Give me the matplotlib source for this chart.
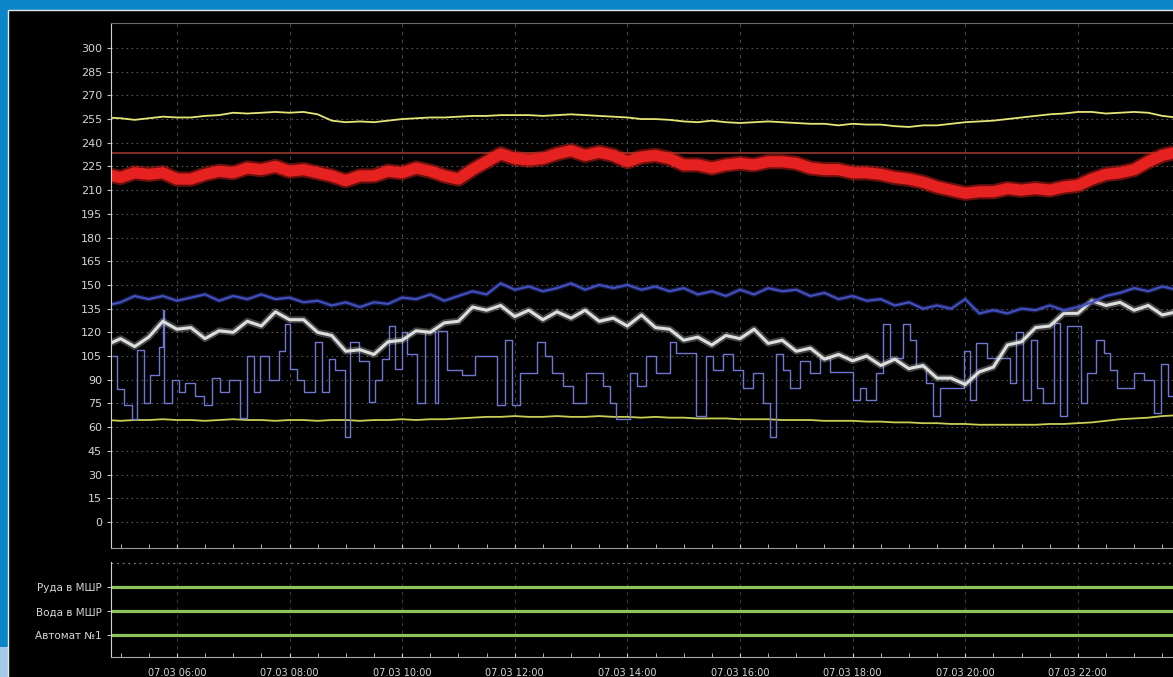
import numpy as np
import matplotlib.pyplot as plt
from matplotlib.patches import Rectangle

plt.rcParams['font.family'] = ['DejaVu Sans']

# time grid (hours of 07.03) for the sampled trends
hours = np.arange(4.75, 24.01, 0.25)

top_yellow = [256, 255.5, 254.5, 255.5, 256.5, 256, 256, 257, 257.5, 259,
              258.5, 259, 259.5, 259, 259.5, 258, 254, 253, 253.5, 253,
              254, 255, 255.5, 256, 256, 256.5, 257, 257, 257.5, 257.5,
              257.5, 257, 257.5, 258, 257.5, 257, 256.5, 256, 255, 255,
              254.5, 253.5, 253, 254, 253, 252.5, 253, 253.5, 253, 252.5,
              252, 252, 251, 252, 251.5, 251.5, 250.5, 250, 251, 251,
              252, 253, 253.5, 254, 255, 256, 257, 258, 258.5, 259.5,
              259.5, 258.5, 259, 259.5, 259, 257, 256, 256]

red_band = [220, 218, 221, 220, 221, 217, 217, 220, 222, 221,
            224, 223, 225, 222, 223, 221, 219, 216, 219, 219,
            222, 221, 224, 222, 219, 217, 223, 228, 233, 230,
            229, 230, 233, 235, 232, 234, 232, 228, 231, 232,
            230, 226, 226, 224, 226, 227, 226, 228, 228, 227,
            224, 223, 223, 221, 221, 220, 218, 217, 215, 212,
            210, 208, 209, 209, 211, 210, 211, 210, 212, 213,
            217, 220, 221, 223, 228, 232, 234, 235]
red_limit = 233.5

blue_upper = [137, 139, 143, 141, 143, 140, 142, 144, 140, 143,
              141, 144, 141, 142, 139, 140, 137, 139, 136, 139,
              138, 142, 141, 144, 140, 143, 146, 144, 151, 147,
              149, 146, 148, 151, 147, 150, 148, 150, 147, 149,
              146, 148, 144, 146, 143, 147, 144, 148, 146, 147,
              143, 145, 141, 143, 140, 141, 137, 139, 135, 137,
              135, 141, 132, 134, 132, 135, 134, 137, 134, 136,
              139, 143, 145, 148, 146, 149, 147, 148]

white_line = [112, 116, 111, 117, 127, 122, 123, 116, 121, 120,
              127, 124, 133, 128, 128, 120, 118, 108, 109, 106,
              114, 115, 121, 120, 126, 127, 136, 134, 137, 130,
              134, 128, 133, 129, 134, 127, 129, 124, 131, 123,
              122, 115, 117, 112, 118, 116, 122, 113, 115, 108,
              110, 103, 106, 102, 105, 99, 103, 97, 99, 91,
              91, 87, 95, 98, 112, 114, 123, 124, 132, 132,
              140, 137, 139, 134, 137, 131, 133, 130]

low_yellow = [64.5, 64, 64.5, 64.5, 65, 64.5, 64.5, 64, 64.5, 65,
              64.5, 64.5, 64, 64.5, 64.5, 64, 64.5, 64.5, 64, 64.5,
              64.5, 65, 64.5, 65, 65, 65.5, 66,
              66.5, 66.5, 67, 66.5, 66.5, 67, 66.5, 66.5, 67, 66.5,
              66.5, 66, 66.5, 66, 66, 65.5, 65.5,
              65.5, 65, 65, 65, 64.5, 64.5, 64.5, 64, 64, 64,
              63.5, 63.5, 63, 63, 62.5, 62.5, 62, 62, 61.5, 61.5,
              61.5, 61.5, 61.5, 62,
              62, 62.5, 63, 64, 65, 65.5, 66, 67, 67.5, 68]

# stepped signal: change times and levels
step_h = [4.86, 4.93, 5.06, 5.20, 5.29, 5.41, 5.52, 5.68, 5.75, 5.78,
          5.91, 6.03, 6.14, 6.32, 6.48, 6.62, 6.76, 6.92, 7.12, 7.24,
          7.37, 7.48, 7.64, 7.81, 7.92, 8.01, 8.13, 8.26, 8.45, 8.58,
          8.70, 8.81, 8.99, 9.08, 9.24, 9.41, 9.52, 9.65, 9.77, 9.88,
          10.00, 10.09, 10.27, 10.41, 10.59, 10.64, 10.80, 11.07, 11.30, 11.69,
          11.83, 11.96, 12.10, 12.40, 12.53, 12.67, 12.85, 13.03, 13.26, 13.56,
          13.69, 13.79, 14.04, 14.18, 14.33, 14.50, 14.75, 14.86, 15.22, 15.39,
          15.52, 15.70, 15.87, 16.05, 16.23, 16.41, 16.53, 16.64, 16.76, 16.89,
          17.07, 17.24, 17.42, 17.60, 18.01, 18.13, 18.24, 18.42, 18.54, 18.67,
          18.90, 19.02, 19.13, 19.31, 19.43, 19.56, 19.97, 20.09, 20.20, 20.38,
          20.80, 20.91, 21.03, 21.16, 21.27, 21.39, 21.57, 21.69, 21.80, 22.05,
          22.16, 22.33, 22.46, 22.58, 22.69, 22.99, 23.17, 23.35, 23.47, 23.61,
          23.80]
step_v = [105, 84, 74, 65, 109, 75, 93, 111, 134, 75,
          90, 82, 88, 80, 74, 91, 82, 90, 66, 105,
          82, 105, 90, 108, 125, 97, 90, 82, 114, 82,
          103, 96, 54, 114, 102, 76, 90, 103, 124, 97,
          120, 106, 75, 121, 75, 121, 96, 93, 105, 74,
          115, 74, 94, 114, 105, 94, 86, 75, 94, 86,
          75, 65, 94, 86, 105, 94, 114, 107, 67, 105,
          96, 106, 96, 85, 94, 75, 54, 106, 96, 85,
          102, 94, 104, 95, 77, 85, 77, 94, 125, 104,
          125, 115, 98, 88, 67, 85, 108, 77, 113, 104,
          88, 120, 77, 115, 85, 75, 126, 67, 124, 75,
          94, 115, 107, 96, 85, 94, 90, 69, 100, 80,
          80]

state_labels = ['Руда в МШР', 'Вода в МШР', 'Автомат №1']
tick_hours = [6, 8, 10, 12, 14, 16, 18, 20, 22]
tick_labels = ['07.03 06:00', '07.03 08:00', '07.03 10:00', '07.03 12:00',
               '07.03 14:00', '07.03 16:00', '07.03 18:00', '07.03 20:00',
               '07.03 22:00']

W, H = 1173, 677
fig = plt.figure(figsize=(W / 100, H / 100), dpi=100)
fig.patch.set_facecolor('#0a85c8')
fig.add_artist(Rectangle((0, 0), 8 / W, 30 / H, transform=fig.transFigure,
                         facecolor='#a6c9e8', edgecolor='none', zorder=-2))
fig.add_artist(Rectangle((8 / W, -0.01), 1, 1 - 10 / H + 0.01, transform=fig.transFigure,
                         facecolor='black', edgecolor='#e8e8e8', lw=1, zorder=-1))

x_left, x_right = 4.83, 23.69
txt = '#d6d6d6'

# ---- main trend panel ----
ax = fig.add_axes([111 / W, 1 - 548 / H, 1 - 111 / W, 525 / H])
ax.set_facecolor('none')
ax.set_xlim(x_left, x_right)
ax.set_ylim(-16.5, 315.8)
ax.set_yticks(np.arange(0, 301, 15))
ax.set_xticks(tick_hours)
ax.set_xticks(np.arange(5, 23.7, 0.5), minor=True)
ax.set_xticklabels([])
ax.tick_params(axis='y', colors=txt, labelsize=8, length=3, color='#c0c0c0')
ax.tick_params(axis='x', which='both', direction='in', length=3, color='#cfcfcf')
ax.grid(axis='y', color='#565656', linestyle=(0, (1.5, 3)), linewidth=0.8)
ax.grid(axis='x', color='#444444', linestyle=(0, (3, 4)), linewidth=0.8)
ax.spines['right'].set_visible(False)
ax.spines['left'].set_color('#d0d0d0')
ax.spines['top'].set_color('#6a6a6a')
ax.spines['bottom'].set_color('#9a9a9a')

ax.plot(hours, low_yellow, color='#c9cf55', lw=1.3)
ax.step(step_h, step_v, where='post', color='#6f76d0', lw=1.0)
ax.plot(hours, top_yellow, color='#e6e676', lw=1.3)
ax.axhline(red_limit, color='#8a3328', lw=1.3)
# soft halo + core for the noisy trends
ax.plot(hours, white_line, color='#d8dbd8', lw=5, alpha=0.3)
ax.plot(hours, white_line, color='#dcdfdc', lw=2.2)
ax.plot(hours, blue_upper, color='#3f4ab8', lw=3.5, alpha=0.35)
ax.plot(hours, blue_upper, color='#4350c0', lw=1.5)
ax.plot(hours, red_band, color='#e5221f', lw=11, alpha=0.45, solid_capstyle='butt')
ax.plot(hours, red_band, color='#e5221f', lw=8, solid_capstyle='butt')

# ---- discrete state panel ----
bx = fig.add_axes([111 / W, 1 - 657 / H, 1 - 111 / W, 95 / H])
bx.set_facecolor('none')
bx.set_xlim(x_left, x_right)
bx.set_ylim(0.1, 4.05)
bx.set_yticks([3, 2, 1])
bx.set_yticklabels(state_labels)
bx.set_xticks(tick_hours)
bx.set_xticklabels(tick_labels)
bx.set_xticks(np.arange(5, 23.7, 0.5), minor=True)
bx.tick_params(axis='y', colors=txt, labelsize=7.5, length=3, color='#c0c0c0')
bx.tick_params(axis='x', which='both', colors=txt, labelsize=7, direction='in',
               length=3, pad=8)
bx.tick_params(axis='x', which='both', color='#cfcfcf')
bx.grid(axis='x', color='#383838', linestyle=(0, (3, 4)), linewidth=0.8)
bx.axhline(4.0, color='#7a7a7a', linestyle=(0, (1.5, 3)), lw=0.9)
for s in ['right', 'top']:
    bx.spines[s].set_visible(False)
bx.spines['left'].set_color('#d0d0d0')
bx.spines['bottom'].set_color('#a8a8a8')
for lev in [3, 2, 1]:
    bx.axhline(lev, color='#8dc35a', lw=2.3)

fig.savefig('out.png', dpi=100, facecolor=fig.get_facecolor())
